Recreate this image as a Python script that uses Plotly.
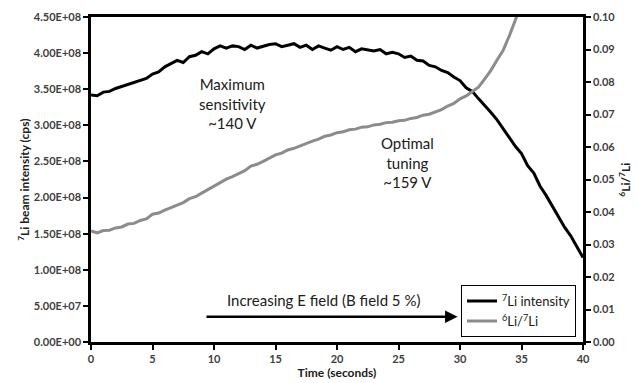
import plotly.graph_objects as go

time_s = [i * 0.5 for i in range(81)]

li7_intensity_e8 = [
    3.42, 3.41, 3.46, 3.47, 3.51, 3.54, 3.57, 3.59, 3.63, 3.65,
    3.71, 3.74, 3.81, 3.85, 3.90, 3.87, 3.95, 3.97, 4.02, 3.99,
    4.06, 4.10, 4.07, 4.10, 4.09, 4.05, 4.11, 4.07, 4.10, 4.12,
    4.13, 4.09, 4.11, 4.13, 4.08, 4.11, 4.05, 4.10, 4.07, 4.04,
    4.09, 4.05, 4.08, 4.02, 4.06, 4.04, 4.03, 4.05, 3.99, 4.01,
    3.99, 3.94, 3.96, 3.90, 3.89, 3.83, 3.81, 3.76, 3.73, 3.67,
    3.62, 3.52, 3.47, 3.37, 3.28, 3.18, 3.08, 2.96, 2.84, 2.71,
    2.61, 2.44, 2.34, 2.16, 2.03, 1.88, 1.75, 1.59, 1.47, 1.31,
    1.17,
]

ratio_time_s = [i * 0.5 for i in range(71)]
li6_li7_ratio = [
    0.0342, 0.0336, 0.0343, 0.0344, 0.0351, 0.0354, 0.0363, 0.0365, 0.0374, 0.0379,
    0.0393, 0.0397, 0.0406, 0.0413, 0.0421, 0.0429, 0.0441, 0.0447, 0.0458, 0.0469,
    0.0481, 0.0491, 0.0501, 0.0509, 0.0519, 0.0527, 0.0541, 0.0547, 0.0556, 0.0567,
    0.0576, 0.0581, 0.0591, 0.0596, 0.0604, 0.0611, 0.0618, 0.0624, 0.0633, 0.0637,
    0.0644, 0.0647, 0.0653, 0.0655, 0.0661, 0.0662, 0.0668, 0.0670, 0.0675, 0.0676,
    0.0681, 0.0682, 0.0688, 0.0691, 0.0698, 0.0701, 0.0709, 0.0715, 0.0726, 0.0734,
    0.0748, 0.0757, 0.0771, 0.0784, 0.0809, 0.0835, 0.0867, 0.0897, 0.0941, 0.0989,
    0.1040,
]

left_tick_vals = [i * 0.5e8 for i in range(10)]
left_tick_text = ["0.00E+00", "5.00E+07", "1.00E+08", "1.50E+08", "2.00E+08",
                  "2.50E+08", "3.00E+08", "3.50E+08", "4.00E+08", "4.50E+08"]
right_tick_vals = [i * 0.01 for i in range(11)]
x_tick_vals = [0, 5, 10, 15, 20, 25, 30, 35, 40]

FONT = "Lato"
TICKC = "#404040"

fig = go.Figure()
fig.add_trace(go.Scatter(
    x=time_s, y=[v * 1e8 for v in li7_intensity_e8], mode="lines",
    name="<sup>7</sup>Li intensity", line=dict(color="black", width=3),
    yaxis="y"))
fig.add_trace(go.Scatter(
    x=ratio_time_s, y=li6_li7_ratio, mode="lines",
    name="<sup>6</sup>Li/<sup>7</sup>Li", line=dict(color="#8c8c8c", width=3),
    yaxis="y2"))

axis_common = dict(showline=True, linecolor="black", linewidth=2.5, ticks="outside",
                   ticklen=5, tickwidth=1.5, tickcolor="black", showgrid=False,
                   zeroline=False, automargin=False,
                   tickfont=dict(family=FONT, size=11, color=TICKC, weight="bold"))

fig.update_layout(
    width=638, height=383,
    margin=dict(l=91, r=55, t=17, b=41, autoexpand=False),
    paper_bgcolor="white", plot_bgcolor="white",
    font=dict(family=FONT, color="#202020"),
    showlegend=True,
    legend=dict(x=0.752, y=0.175, xanchor="left", yanchor="top",
                bordercolor="black", borderwidth=1, bgcolor="white",
                font=dict(family=FONT, size=13, color="#202020"),
                tracegroupgap=0, itemwidth=30),
    xaxis=dict(range=[0, 40], tickvals=x_tick_vals, mirror=True,
               title=dict(text="Time (seconds)", standoff=5,
                          font=dict(family=FONT, size=12, color="#202020", weight="bold")),
               **axis_common),
    yaxis=dict(range=[0, 4.5e8], tickvals=left_tick_vals, ticktext=left_tick_text,
               **axis_common),
    yaxis2=dict(range=[0, 0.1], tickvals=right_tick_vals, tickformat=".2f",
                overlaying="y", side="right", **axis_common),
)

ann_font = dict(family=FONT, size=15, color="#202020")
fig.add_annotation(x=11.5, y=3.30e8, xref="x", yref="y",
                   text="Maximum<br>sensitivity<br>~140 V", showarrow=False,
                   font=ann_font, align="center")
fig.add_annotation(x=25.7, y=2.49e8, xref="x", yref="y",
                   text="Optimal<br>tuning<br>~159 V", showarrow=False,
                   font=ann_font, align="center")
fig.add_annotation(x=18.9, y=0.58e8, xref="x", yref="y",
                   text="Increasing E field (B field 5 %)", showarrow=False,
                   font=ann_font)
fig.add_annotation(x=29.8, y=0.35e8, ax=9.27, ay=0.35e8, xref="x", yref="y",
                   axref="x", ayref="y", text="", showarrow=True,
                   arrowhead=2, arrowsize=1, arrowwidth=2.5, arrowcolor="black")
fig.add_annotation(x=-0.158, y=0.5, xref="paper", yref="paper", textangle=-90,
                   text="<sup>7</sup>Li beam intensity (cps)", showarrow=False,
                   font=dict(family=FONT, size=12, color="#202020", weight="bold"))
fig.add_annotation(x=1.104, y=0.5, xref="paper", yref="paper", textangle=-90,
                   text="<sup>6</sup>Li/<sup>7</sup>Li", showarrow=False,
                   font=dict(family=FONT, size=12, color="#202020", weight="bold"))

fig.write_html("out.html", config={"displayModeBar": False},
               post_script="document.body.style.margin='0';document.body.style.overflow='hidden';")
